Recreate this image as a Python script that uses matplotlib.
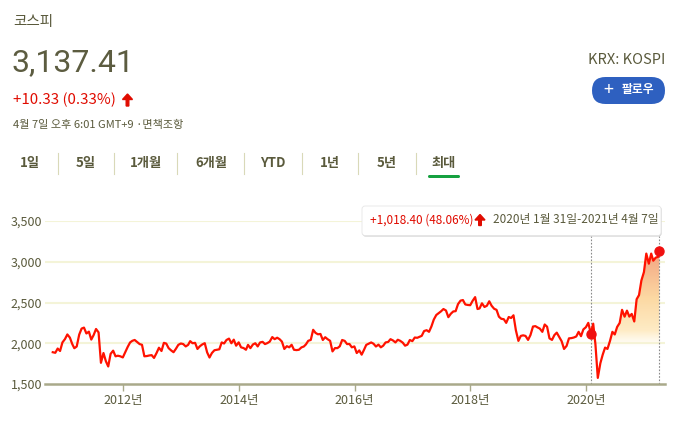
import numpy as np
import pandas as pd
import matplotlib
matplotlib.use("Agg")
import matplotlib.pyplot as plt
import matplotlib.dates as mdates
from matplotlib.patches import FancyBboxPatch, FancyArrow

plt.rcParams['font.family'] = ['Noto Sans CJK KR', 'DejaVu Sans']

# KOSPI, two readings per month (mid-month, month end), Oct 2010 - Mar 2021, then 7 Apr 2021
kospi_2010 = [1890, 1883, 1935, 1905, 2010, 2051]
kospi_2011 = [2108, 2069, 1990, 1939, 1960, 2107, 2180, 2192, 2120, 2142, 2045, 2101,
              2175, 2133, 1760, 1880, 1780, 1715, 1870, 1909, 1840, 1847, 1840, 1826]
kospi_2012 = [1890, 1956, 2010, 2030, 2040, 2014, 1990, 1981, 1840, 1843, 1850, 1854,
              1820, 1881, 1945, 1905, 2005, 1996, 1940, 1912, 1890, 1932, 1980, 1997]
kospi_2013 = [1990, 1961, 1980, 2026, 2000, 2005, 1930, 1963, 1985, 2001, 1888, 1825,
              1880, 1914, 1920, 1926, 2010, 1997, 2040, 2057, 2000, 2044, 1970, 2011]
kospi_2014 = [1950, 1941, 1920, 1980, 1940, 1985, 2000, 1961, 2010, 2017, 1990, 2002,
              2020, 2076, 2050, 2068, 2050, 2020, 1930, 1964, 1950, 1981, 1920, 1916]
kospi_2015 = [1920, 1949, 1960, 1985, 2030, 2041, 2165, 2127, 2110, 2114, 2040, 2074,
              2050, 2030, 1900, 1941, 1940, 1963, 2040, 2029, 1990, 1991, 1950, 1961]
kospi_2016 = [1880, 1912, 1860, 1916, 1980, 1996, 2010, 1994, 1960, 1983, 1950, 1970,
              2010, 2016, 2050, 2034, 2010, 2043, 2030, 2008, 1970, 1983, 2040, 2026]
kospi_2017 = [2070, 2067, 2080, 2091, 2150, 2160, 2140, 2205, 2290, 2347, 2370, 2392,
              2420, 2402, 2320, 2363, 2390, 2394, 2480, 2523, 2530, 2476, 2470, 2467]
kospi_2018 = [2520, 2566, 2420, 2427, 2490, 2445, 2460, 2515, 2460, 2423, 2410, 2326,
              2300, 2295, 2250, 2322, 2310, 2343, 2160, 2029, 2090, 2097, 2090, 2041]
kospi_2019 = [2100, 2205, 2210, 2195, 2180, 2140, 2230, 2203, 2060, 2041, 2100, 2130,
              2080, 2024, 1930, 1967, 2060, 2063, 2070, 2083, 2140, 2087, 2170, 2197]
kospi_2020 = [2250, 2119, 2240, 1987, 1575, 1754, 1860, 1947, 1930, 2029, 2140, 2108,
              2200, 2249, 2410, 2326, 2400, 2327, 2360, 2267, 2540, 2591, 2770, 2873]
kospi_2021 = [3100, 2976, 3100, 3013, 3050, 3061, 3137.41]

values = (kospi_2010 + kospi_2011 + kospi_2012 + kospi_2013 + kospi_2014 + kospi_2015
          + kospi_2016 + kospi_2017 + kospi_2018 + kospi_2019 + kospi_2020 + kospi_2021)

dates = []
for p in pd.period_range('2010-10', '2021-03', freq='M'):
    dates.append(p.start_time + pd.Timedelta(days=14))
    dates.append(p.end_time.normalize())
dates.append(pd.Timestamp('2021-04-07'))

ref_date = pd.Timestamp('2020-01-31')
ref_value = 2119.01
last_value = 3137.41

y_ticks = [1500, 2000, 2500, 3000, 3500]
y_labels = ['1,500', '2,000', '2,500', '3,000', '3,500']
x_years = [2012, 2014, 2016, 2018, 2020]
tabs = ['1일', '5일', '1개월', '6개월', 'YTD', '1년', '5년', '최대']
tab_x = [30, 86, 146, 211, 273, 330, 387, 444]
tab_sep = [58, 114, 177, 244, 302, 358, 416]

W, H = 679, 428
OLIVE = '#5a5a3c'
RED = '#e00b00'

fig = plt.figure(figsize=(W / 100, H / 100), dpi=100)


def fx(x):
    return x / W


def fy(y):
    return 1 - y / H


def up_arrow(x, y_bottom, height, color, z=5):
    # arrow drawn in inches so the head is not squashed
    a = FancyArrow(x / 100, (H - y_bottom) / 100, 0, height / 100, width=0.026,
                   head_width=0.1, head_length=0.055, length_includes_head=True,
                   color=color, transform=fig.dpi_scale_trans, zorder=z)
    fig.add_artist(a)


# header
fig.text(fx(13), fy(22), '코스피', fontsize=10.5, color=OLIVE, va='center')
fig.text(fx(11), fy(63), '3,137.41', fontsize=23, color='#5c5c40', va='center',
         family='Roboto')
fig.text(fx(13), fy(100), '+10.33 (0.33%)', fontsize=10.8, color=RED, va='center')
up_arrow(127.5, 106, 12, RED)
fig.text(fx(13), fy(125), '4월 7일 오후 6:01 GMT+9 ·면책조항', fontsize=8, color=OLIVE,
         va='center')
fig.text(fx(665), fy(60), 'KRX: KOSPI', fontsize=10.5, color=OLIVE, va='center', ha='right')

fig.add_artist(FancyBboxPatch((592 / 100, (H - 104) / 100), 73 / 100, 27 / 100,
                              boxstyle='round,pad=0,rounding_size=0.135',
                              facecolor='#2e60c0', edgecolor='none',
                              transform=fig.dpi_scale_trans))
fig.text(fx(608), fy(90), '+', fontsize=13, color='white', va='center', ha='center',
         fontweight='light')
fig.text(fx(622), fy(90), '팔로우', fontsize=8.5, color='white', va='center',
         fontweight='bold')

# period tabs
for label, xt in zip(tabs, tab_x):
    fig.text(fx(xt), fy(163), label, fontsize=9.5, color=OLIVE, va='center', ha='center',
             fontweight='bold')
for xs in tab_sep:
    fig.add_artist(plt.Line2D([fx(xs), fx(xs)], [fy(153), fy(174)], color='#d9d9b8', lw=0.8))
fig.add_artist(FancyBboxPatch((428 / 100, (H - 178) / 100), 32 / 100, 3 / 100,
                              boxstyle='round,pad=0,rounding_size=0.015',
                              facecolor='#16a140', edgecolor='none',
                              transform=fig.dpi_scale_trans))

# chart
ax = fig.add_axes([fx(45), fy(384), fx(665) - fx(45), (384 - 221) / H])
for t in y_ticks[1:]:
    ax.axhline(t, color='#f4f4d8', lw=1.5, zorder=0)

x = mdates.date2num(dates)
y = np.array(values, dtype=float)
i0 = dates.index(ref_date)
base = 1950
top = 3150
poly = ax.fill_between(x[i0:], np.maximum(y[i0:], base), base,
                       facecolor='none', edgecolor='none')
grad = np.zeros((200, 2, 4))
t = np.linspace(1, 0, 200)[:, None]
c_top = np.array([0.95, 0.63, 0.50])
c_mid = np.array([0.99, 0.85, 0.64])
c_bot = np.array([1.0, 0.96, 0.84])
col = np.where(t > 0.5, c_mid + (c_top - c_mid) * (t - 0.5) / 0.5,
               c_bot + (c_mid - c_bot) * t / 0.5)
grad[:, :, :3] = col[:, None, :]
grad[:, :, 3] = np.clip(t * 6, 0, 1)
img = ax.imshow(grad, extent=[x[i0], x[-1], base, top], aspect='auto', origin='upper',
                zorder=1, interpolation='bilinear')
img.set_clip_path(poly.get_paths()[0], transform=ax.transData)

ax.plot(x, y, color='#ff1200', lw=1.6, zorder=3, solid_joinstyle='round')
ax.plot([x[i0]], [ref_value], 'o', color='#f01010', ms=6.5, zorder=4, clip_on=False)
ax.plot([x[-1]], [last_value], 'o', color='#f01010', ms=6.5, zorder=4, clip_on=False)
for xv in (x[i0], x[-1]):
    ax.plot([xv, xv], [1500, 3318], color='#8a8a8a', lw=0.8, ls=(0, (1.5, 1.5)),
            zorder=2, clip_on=False)

ax.set_xlim(mdates.date2num(pd.Timestamp('2010-08-27')),
            mdates.date2num(pd.Timestamp('2021-05-13')))
ax.set_ylim(1500, 3500)
ax.set_yticks(y_ticks)
ax.set_yticklabels(y_labels)
ax.set_xticks([mdates.date2num(pd.Timestamp(f'{yr}-01-01')) for yr in x_years])
ax.set_xticklabels([f'{yr}년' for yr in x_years])
ax.tick_params(axis='y', length=0, pad=2, labelsize=9, labelcolor=OLIVE)
ax.tick_params(axis='x', length=5, width=1, color='#a9a98a', pad=2, labelsize=9,
               labelcolor=OLIVE)
for s in ('top', 'right', 'left'):
    ax.spines[s].set_visible(False)
ax.spines['bottom'].set_color('#a9a98a')
ax.spines['bottom'].set_linewidth(1.8)
ax.spines['bottom'].set_zorder(5)
ax.patch.set_alpha(0)

# tooltip
fig.add_artist(FancyBboxPatch((362.5 / 100, (H - 236.5) / 100), 299 / 100, 30 / 100,
                              boxstyle='round,pad=0,rounding_size=0.03',
                              facecolor='#c8c8c8', edgecolor='none',
                              transform=fig.dpi_scale_trans, zorder=9))
fig.add_artist(FancyBboxPatch((362 / 100, (H - 235.5) / 100), 299 / 100, 29.5 / 100,
                              boxstyle='round,pad=0,rounding_size=0.03',
                              facecolor='white', edgecolor='#e6e6e6', lw=0.6,
                              transform=fig.dpi_scale_trans, zorder=10))
fig.text(fx(370), fy(220), '+1,018.40 (48.06%)', fontsize=8.5, color=RED, va='center',
         zorder=11)
up_arrow(480, 225.5, 11, RED, z=12)
fig.text(fx(493), fy(220), '2020년 1월 31일-2021년 4월 7일', fontsize=8.5, color=OLIVE,
         va='center', zorder=11)

fig.savefig('out.png', dpi=100)
